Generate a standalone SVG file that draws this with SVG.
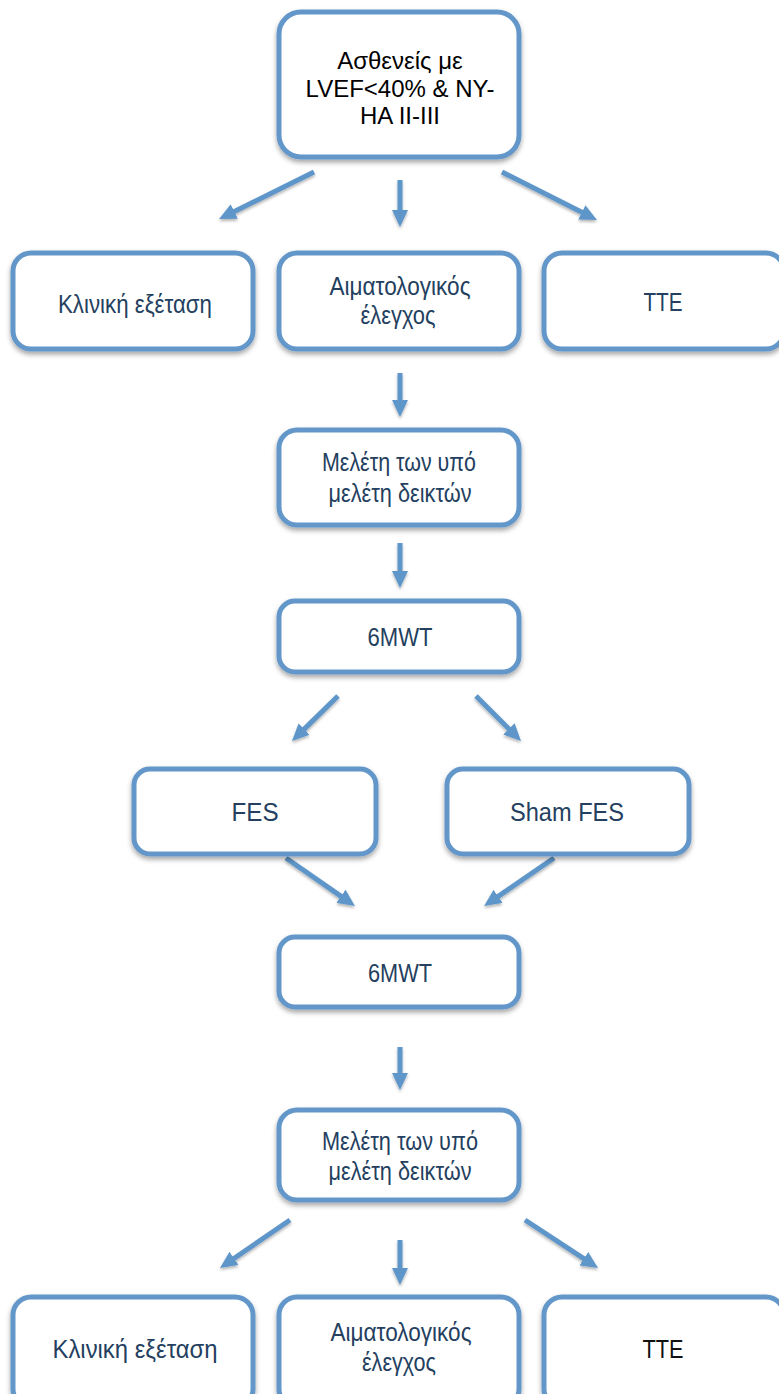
<svg xmlns="http://www.w3.org/2000/svg" width="779" height="1394" viewBox="0 0 779 1394">
<style>
.box{fill:#fff;stroke:#6497c9;stroke-width:5;filter:url(#sh)}
.t{font-family:"Liberation Sans",Arial,sans-serif;font-size:25px;fill:#243f60;text-anchor:middle}
.tb{font-family:"Liberation Sans",Arial,sans-serif;font-size:24px;fill:#000;text-anchor:middle}
.c{stroke:#5f96c9;stroke-width:5;fill:none;marker-end:url(#ah)}
</style>
<defs>
<filter id="sh" x="-10%" y="-10%" width="120%" height="130%">
<feDropShadow dx="0" dy="3" stdDeviation="2.5" flood-color="#000" flood-opacity="0.35"/>
</filter>
<filter id="sh2" x="-30%" y="-30%" width="160%" height="160%">
<feDropShadow dx="0" dy="2" stdDeviation="1.5" flood-color="#000" flood-opacity="0.3"/>
</filter>
<marker id="ah" markerWidth="3.4" markerHeight="3.2" refX="1" refY="1.6" orient="auto" markerUnits="strokeWidth">
<path d="M0,0 L3.4,1.6 L0,3.2 z" fill="#5f96c9"/>
</marker>
</defs>
<g id="connectors" filter="url(#sh2)">
<line class="c" x1="314" y1="172" x2="229.8" y2="213.7"/>
<line class="c" x1="400" y1="180" x2="400" y2="215"/>
<line class="c" x1="502" y1="172" x2="586.3" y2="214.6"/>
<line class="c" x1="400" y1="373" x2="400" y2="405"/>
<line class="c" x1="400" y1="543" x2="400" y2="576"/>
<line class="c" x1="338" y1="696" x2="300.6" y2="732.6"/>
<line class="c" x1="476" y1="696" x2="512.5" y2="732.5"/>
<line class="c" x1="286" y1="858" x2="345.1" y2="899.1"/>
<line class="c" x1="554" y1="858" x2="494" y2="899.2"/>
<line class="c" x1="400" y1="1047" x2="400" y2="1078"/>
<line class="c" x1="290" y1="1220" x2="229.9" y2="1261.2"/>
<line class="c" x1="400" y1="1240" x2="400" y2="1273"/>
<line class="c" x1="525" y1="1220" x2="588" y2="1261.4"/>
</g>
<g id="n-top"><rect class="box" x="279" y="12" width="240" height="145" rx="22"/>
<text class="tb" x="400" y="69">Ασθενείς με</text><text class="tb" x="400" y="97">LVEF&lt;40% &amp; NY-</text><text class="tb" x="400" y="124">HA II-III</text></g>
<g id="n-klin1"><rect class="box" x="13" y="253" width="240" height="96" rx="18"/><text class="t" x="135" y="313" font-size="27" textLength="154" lengthAdjust="spacingAndGlyphs">Κλινική εξέταση</text></g>
<g id="n-aim1"><rect class="box" x="279" y="253" width="240" height="96" rx="18"/><text class="t" x="400" y="295" textLength="141" lengthAdjust="spacingAndGlyphs">Αιματολογικός</text><text class="t" x="398" y="324" textLength="75" lengthAdjust="spacingAndGlyphs">έλεγχος</text></g>
<g id="n-tte1"><rect class="box" x="544" y="253" width="240" height="96" rx="18"/><text class="t" x="663" y="311" textLength="39" lengthAdjust="spacingAndGlyphs">TTE</text></g>
<g id="n-mel1"><rect class="box" x="279" y="430" width="240" height="95" rx="18"/><text class="t" x="399" y="471" font-size="24" textLength="154" lengthAdjust="spacingAndGlyphs">Μελέτη των υπό</text><text class="t" x="400" y="502" font-size="24" textLength="143" lengthAdjust="spacingAndGlyphs">μελέτη δεικτών</text></g>
<g id="n-6mwt1"><rect class="box" x="279" y="601" width="240" height="71" rx="16"/><text class="t" x="400" y="646" textLength="65" lengthAdjust="spacingAndGlyphs">6MWT</text></g>
<g id="n-fes"><rect class="box" x="134" y="769" width="242" height="85" rx="16"/><text class="t" x="255" y="821" font-size="26" textLength="47" lengthAdjust="spacingAndGlyphs">FES</text></g>
<g id="n-sham"><rect class="box" x="447" y="769" width="242" height="85" rx="16"/><text class="t" x="567" y="821" font-size="26" textLength="114" lengthAdjust="spacingAndGlyphs">Sham FES</text></g>
<g id="n-6mwt2"><rect class="box" x="279" y="937" width="240" height="70" rx="16"/><text class="t" x="400" y="982" textLength="64" lengthAdjust="spacingAndGlyphs">6MWT</text></g>
<g id="n-mel2"><rect class="box" x="279" y="1110" width="240" height="90" rx="18"/><text class="t" x="400" y="1150" font-size="24" textLength="156" lengthAdjust="spacingAndGlyphs">Μελέτη των υπό</text><text class="t" x="400" y="1180" font-size="24" textLength="143" lengthAdjust="spacingAndGlyphs">μελέτη δεικτών</text></g>
<g id="n-klin2"><rect class="box" x="13" y="1297" width="240" height="110" rx="18"/><text class="t" x="135" y="1358" font-size="28" textLength="165" lengthAdjust="spacingAndGlyphs">Κλινική εξέταση</text></g>
<g id="n-aim2"><rect class="box" x="279" y="1297" width="240" height="110" rx="18"/><text class="t" x="401" y="1341" textLength="141" lengthAdjust="spacingAndGlyphs">Αιματολογικός</text><text class="t" x="399" y="1371" textLength="74" lengthAdjust="spacingAndGlyphs">έλεγχος</text></g>
<g id="n-tte2"><rect class="box" x="544" y="1297" width="240" height="110" rx="18"/><text class="t" x="663" y="1358" fill="#111" style="fill:#111" textLength="41" lengthAdjust="spacingAndGlyphs">TTE</text></g>
</svg>
